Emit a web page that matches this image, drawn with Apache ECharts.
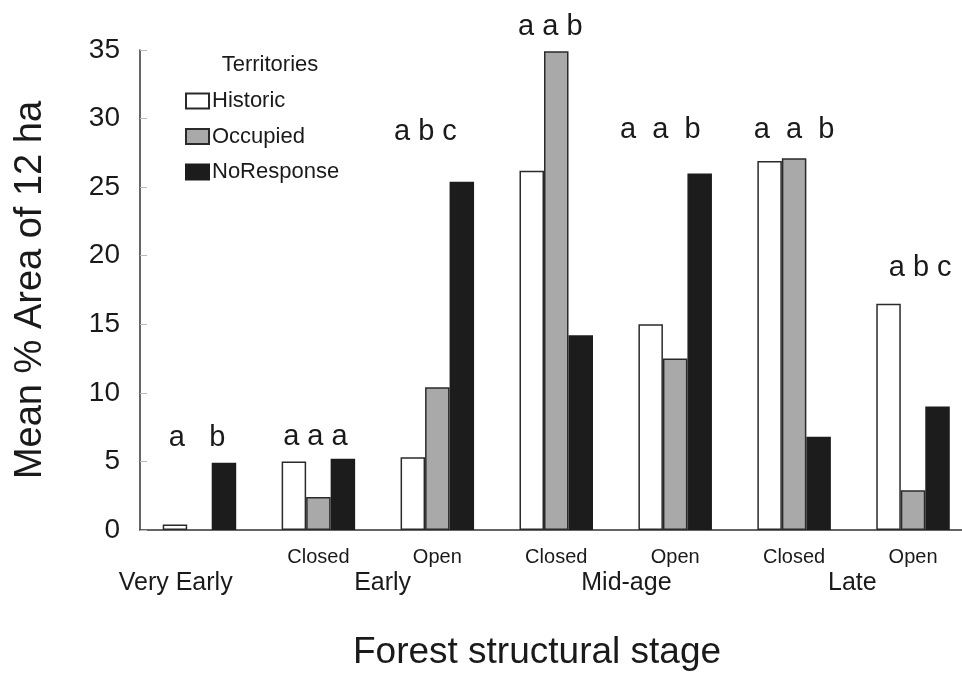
<!DOCTYPE html>
<html>
<head>
<meta charset="utf-8">
<script src="https://cdn.jsdelivr.net/npm/echarts@6/dist/echarts.min.js"></script>
<style>
html,body{margin:0;padding:0;background:#fff;}
#chart{width:962px;height:674px;}
</style>
</head>
<body>
<div id="chart"></div>
<script>
// ---- data ----
const categories = ['Very Early', 'Early Closed', 'Early Open', 'Mid-age Closed', 'Mid-age Open', 'Late Closed', 'Late Open'];
const subLabels = ['', 'Closed', 'Open', 'Closed', 'Open', 'Closed', 'Open'];
const stageNames = ['Very Early', 'Early', 'Mid-age', 'Late'];
const stageAnchor = [-0.2, 1.54, 3.59, 5.49];          // in category units
const historic = [0.4, 5.0, 5.3, 26.2, 15.0, 26.9, 16.5];
const occupied = [null, 2.4, 10.4, 34.9, 12.5, 27.1, 2.9];
const noResponse = [4.9, 5.2, 25.4, 14.2, 26.0, 6.8, 9.0];
const letters = ['a   b', 'a a a', 'a b c', 'a a b', 'a  a  b', 'a  a  b', 'a b c'];
const letterAnchor = [-0.02, 0.975, 1.9, 2.95, 3.875, 5.0, 6.06];  // in category units
const letterLevel = [6.7, 6.8, 29.0, 36.7, 29.2, 29.2, 19.1];
const yTicks = [0, 5, 10, 15, 20, 25, 30, 35];

const FONT = '"Liberation Sans", Arial, Helvetica, sans-serif';
const INK = '#1a1a1a';

const chart = echarts.init(document.getElementById('chart'), null, {renderer: 'canvas'});

function catX(api, v, y) {
  const a = api.coord([0, y]);
  const b = api.coord([1, y]);
  return [a[0] + v * (b[0] - a[0]), a[1]];
}

const barCommon = {type: 'bar', barWidth: 24.5, barGap: '0%'};

const option = {
  animation: false,
  backgroundColor: '#fff',
  textStyle: {fontFamily: FONT, color: INK},
  grid: {left: 140, top: 50, bottom: 144, right: -10.5, containLabel: false, outerBoundsMode: 'none'},
  legend: {
    data: ['Historic', 'Occupied', 'NoResponse'],
    orient: 'vertical',
    left: 180,
    top: 85,
    icon: 'rect',
    itemWidth: 23,
    itemHeight: 15,
    itemGap: 13.5,
    selectedMode: false,
    textStyle: {fontFamily: FONT, fontSize: 22, color: INK, padding: [0, 0, 0, -2], lineHeight: 22}
  },
  graphic: [
    {type: 'text', x: 270, y: 65,
     style: {text: 'Territories', font: '22px ' + FONT, fill: INK, textAlign: 'center', textVerticalAlign: 'middle'}},
    {type: 'text', x: 537, y: 653,
     style: {text: 'Forest structural stage', font: '37px ' + FONT, fill: INK, textAlign: 'center', textVerticalAlign: 'middle'}}
  ],
  xAxis: {
    type: 'category',
    data: categories,
    axisLine: {lineStyle: {color: '#333', width: 1.5}},
    axisTick: {show: false},
    axisLabel: {
      interval: 0,
      margin: 17,
      fontFamily: FONT,
      fontSize: 20,
      lineHeight: 20,
      color: INK,
      formatter: function (v, i) { return subLabels[i]; }
    },
    splitLine: {show: false}
  },
  yAxis: {
    type: 'value',
    min: 0,
    max: 35,
    interval: 5,
    name: 'Mean % Area of 12 ha',
    nameLocation: 'middle',
    nameGap: 90,
    nameTextStyle: {fontFamily: FONT, fontSize: 38, color: INK},
    axisLine: {show: true, lineStyle: {color: '#333', width: 1.5}},
    axisTick: {show: true, inside: true, length: 7, lineStyle: {color: '#bbb', width: 1}},
    axisLabel: {
      margin: 20,
      fontFamily: FONT,
      fontSize: 28,
      color: INK,
      formatter: function (v) { return yTicks.indexOf(v) >= 0 ? String(v) : ''; }
    },
    splitLine: {show: false}
  },
  series: [
    Object.assign({}, barCommon, {name: 'Historic', data: historic,
      itemStyle: {color: '#ffffff', borderColor: '#2a2a2a', borderWidth: 1.5}}),
    Object.assign({}, barCommon, {name: 'Occupied', data: occupied,
      itemStyle: {color: '#a9a9a9', borderColor: '#2a2a2a', borderWidth: 1.5}}),
    Object.assign({}, barCommon, {name: 'NoResponse', data: noResponse,
      itemStyle: {color: '#1c1c1c', borderColor: '#1c1c1c', borderWidth: 1.5}}),
    {
      type: 'custom',
      name: 'letters',
      clip: false,
      silent: true,
      data: letters.map(function (s, i) { return [i, letterLevel[i]]; }),
      renderItem: function (params, api) {
        const i = params.dataIndex;
        const p = catX(api, letterAnchor[i], letterLevel[i]);
        return {
          type: 'text',
          x: p[0],
          y: p[1],
          style: {text: letters[i], font: '29px ' + FONT, fill: INK,
                  textAlign: 'center', textVerticalAlign: 'middle'}
        };
      }
    },
    {
      type: 'custom',
      name: 'stages',
      clip: false,
      silent: true,
      data: stageNames.map(function (s, i) { return [Math.max(0, Math.round(stageAnchor[i])), 0]; }),
      renderItem: function (params, api) {
        const i = params.dataIndex;
        const p = catX(api, stageAnchor[i], 0);
        return {
          type: 'text',
          x: p[0],
          y: p[1] + 53,
          style: {text: stageNames[i], font: '25px ' + FONT, fill: INK,
                  textAlign: 'center', textVerticalAlign: 'middle'}
        };
      }
    }
  ]
};

chart.setOption(option);
</script>
</body>
</html>
